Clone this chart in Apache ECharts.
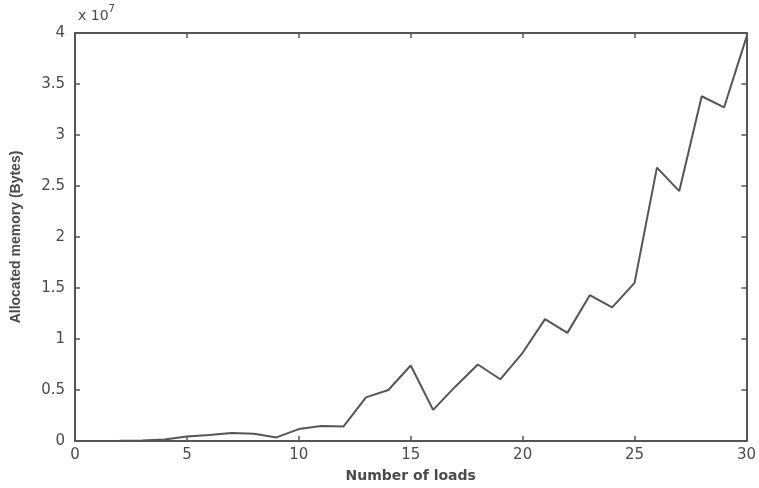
<!DOCTYPE html>
<html>
<head>
<meta charset="utf-8">
<script src="https://cdn.jsdelivr.net/npm/echarts@6/dist/echarts.min.js"></script>
<style>
  html, body { margin: 0; padding: 0; background: #fff; }
  #chart { width: 759px; height: 488px; }
</style>
</head>
<body>
<div id="chart"></div>
<script>
// number of loads
const loads = [1, 2, 3, 4, 5, 6, 7, 8, 9, 10, 11, 12, 13, 14, 15, 16, 17, 18, 19, 20,
  21, 22, 23, 24, 25, 26, 27, 28, 29, 30];
// allocated memory, bytes
const memory = [
  0.01e6, 0.03e6, 0.06e6, 0.15e6, 0.45e6, 0.6e6, 0.78e6, 0.72e6, 0.35e6, 1.17e6,
  1.46e6, 1.43e6, 4.28e6, 5.0e6, 7.4e6, 3.05e6, 5.35e6, 7.5e6, 6.05e6, 8.65e6,
  11.95e6, 10.6e6, 14.3e6, 13.1e6, 15.5e6, 26.8e6, 24.5e6, 33.8e6, 32.7e6, 39.6e6
];
const yTicks = ['0', '0.5', '1', '1.5', '2', '2.5', '3', '3.5', '4'];

const textColor = '#4a4a4a';
const lineColor = '#555';
const font = 'DejaVu Sans';

const chart = echarts.init(document.getElementById('chart'));

// box axes: lines never snap to zero, ticks point into the plot
const axisLine = { show: true, onZero: false, lineStyle: { color: lineColor, width: 2 } };
const tick = { show: true, inside: true, length: 5, lineStyle: { color: lineColor, width: 1.5 } };

chart.setOption({
  animation: false,
  backgroundColor: '#fff',
  grid: { left: 75, right: 10, top: 33, bottom: 44 },
  xAxis: [
    {
      type: 'value', position: 'bottom', min: 0, max: 30, interval: 5,
      name: 'Number of loads', nameLocation: 'middle', nameGap: 28,
      nameTextStyle: { color: textColor, fontFamily: font, fontSize: 14, fontWeight: 'bold' },
      axisLine, axisTick: tick,
      axisLabel: { color: textColor, fontFamily: font, fontSize: 15, margin: 7 },
      splitLine: { show: false }
    },
    {
      type: 'value', position: 'top', min: 0, max: 30, interval: 5,
      axisLine, axisTick: tick, axisLabel: { show: false }, splitLine: { show: false }
    }
  ],
  yAxis: [
    {
      type: 'value', position: 'left', min: 0, max: 4e7, interval: 0.5e7,
      name: 'Allocated memory (Bytes)', nameLocation: 'middle', nameGap: 52,
      nameTextStyle: { color: textColor, fontFamily: 'Liberation Sans', fontSize: 14, fontWeight: 'bold' },
      axisLine, axisTick: tick,
      axisLabel: {
        color: textColor, fontFamily: font, fontSize: 15, margin: 10,
        formatter: (v) => yTicks[Math.round(v / 0.5e7)]
      },
      splitLine: { show: false }
    },
    {
      type: 'value', position: 'right', min: 0, max: 4e7, interval: 0.5e7,
      axisLine, axisTick: tick, axisLabel: { show: false }, splitLine: { show: false }
    }
  ],
  graphic: [
    {
      type: 'text', left: 78, top: 4,
      style: {
        text: '{a|x 10}{b|7}',
        rich: {
          a: { fill: textColor, fontFamily: font, fontSize: 14, padding: [8, 0, 0, 0] },
          b: { fill: textColor, fontFamily: font, fontSize: 10, padding: [0, 0, 6, 0] }
        }
      }
    }
  ],
  series: [
    {
      type: 'line',
      data: loads.map((x, i) => [x, memory[i]]),
      showSymbol: false,
      lineStyle: { color: lineColor, width: 2 }
    }
  ]
});
</script>
</body>
</html>
